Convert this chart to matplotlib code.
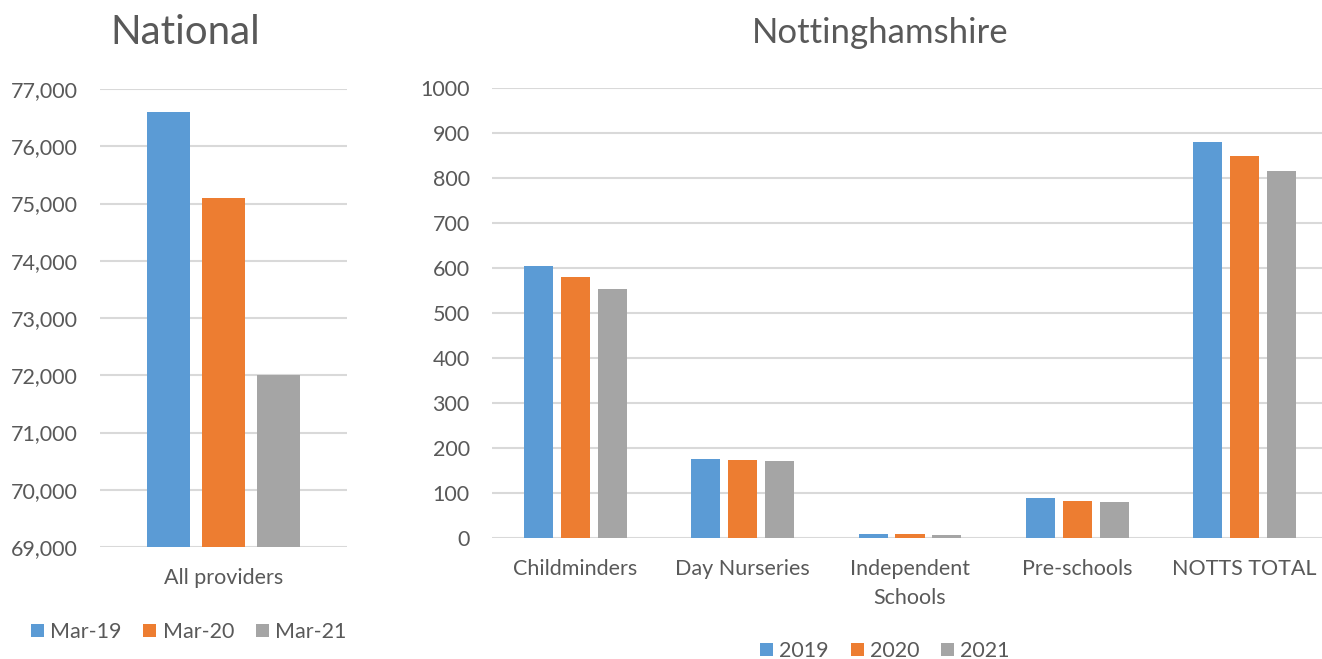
import numpy as np
import matplotlib
matplotlib.use("Agg")
import matplotlib.pyplot as plt
from matplotlib.ticker import FuncFormatter

plt.rcParams['font.family'] = ['Lato', 'DejaVu Sans']

# national data
nat_series = ["Mar-19", "Mar-20", "Mar-21"]
nat_cats = ["All providers"]
nat_vals = [76600, 75100, 72000]

# nottinghamshire data
notts_series = ["2019", "2020", "2021"]
notts_cats = ["Childminders", "Day Nurseries", "Independent\nSchools", "Pre-schools", "NOTTS TOTAL"]
notts_2019 = [604, 175, 8, 88, 880]
notts_2020 = [581, 174, 8, 82, 849]
notts_2021 = [553, 172, 7, 79, 816]

colors = ["#5B9BD5", "#ED7D31", "#A5A5A5"]
txt = "#595959"
grid = "#D9D9D9"
fs = 15.5

W, H = 1322, 659
fig = plt.figure(figsize=(W / 100, H / 100), dpi=100)


def px_axes(x0, y0, x1, y1):
    return fig.add_axes([x0 / W, 1 - y1 / H, (x1 - x0) / W, (y1 - y0) / H])


def style(ax):
    for s in ax.spines.values():
        s.set_visible(False)
    ax.yaxis.grid(True, color=grid, linewidth=1.5)
    ax.set_axisbelow(True)
    ax.tick_params(length=0, colors=txt, labelsize=fs)
    ax.tick_params(axis='y', pad=16)
    ax.tick_params(axis='x', pad=15)


bw = 0.174
off = 0.221

# left chart
ax1 = px_axes(100, 89, 347, 547)
x = np.arange(len(nat_cats))
for i, s in enumerate(nat_series):
    ax1.bar(x + (i - 1) * off, [nat_vals[i]], bw, color=colors[i], label=s, zorder=2)
ax1.set_xlim(-0.5, 0.5)
ax1.set_ylim(69000, 77000)
ax1.set_yticks(np.arange(69000, 77001, 1000))
ax1.yaxis.set_major_formatter(FuncFormatter(lambda v, p: f"{int(v):,}"))
ax1.set_xticks(x)
ax1.set_xticklabels(nat_cats)
style(ax1)
leg1 = ax1.legend(loc='center left', bbox_to_anchor=(31 / W, 1 - 632 / H),
                  bbox_transform=fig.transFigure, ncol=3, frameon=False,
                  handlelength=0.6, handleheight=0.6, handletextpad=0.3,
                  columnspacing=1.0, fontsize=fs, borderaxespad=0, borderpad=0)
for t in leg1.get_texts():
    t.set_color(txt)

# right chart
ax2 = px_axes(492, 88, 1328, 538)
x2 = np.arange(len(notts_cats))
for i, (s, v) in enumerate(zip(notts_series, [notts_2019, notts_2020, notts_2021])):
    ax2.bar(x2 + (i - 1) * off, v, bw, color=colors[i], label=s, zorder=2)
ax2.set_xlim(-0.5, len(notts_cats) - 0.5)
ax2.set_ylim(0, 1000)
ax2.set_yticks(np.arange(0, 1001, 100))
ax2.set_xticks(x2)
ax2.set_xticklabels(notts_cats, linespacing=1.6)
style(ax2)
leg2 = ax2.legend(loc='center', bbox_to_anchor=(885 / W, 1 - 651 / H),
                  bbox_transform=fig.transFigure, ncol=3, frameon=False,
                  handlelength=0.6, handleheight=0.6, handletextpad=0.3,
                  columnspacing=1.0, fontsize=fs, borderaxespad=0, borderpad=0)
for t in leg2.get_texts():
    t.set_color(txt)

fig.text(185 / W, 1 - 33 / H, "National", ha='center', va='center', fontsize=29, color=txt)
fig.text(880 / W, 1 - 33 / H, "Nottinghamshire", ha='center', va='center', fontsize=25, color=txt)

fig.savefig("out.png", dpi=100)
